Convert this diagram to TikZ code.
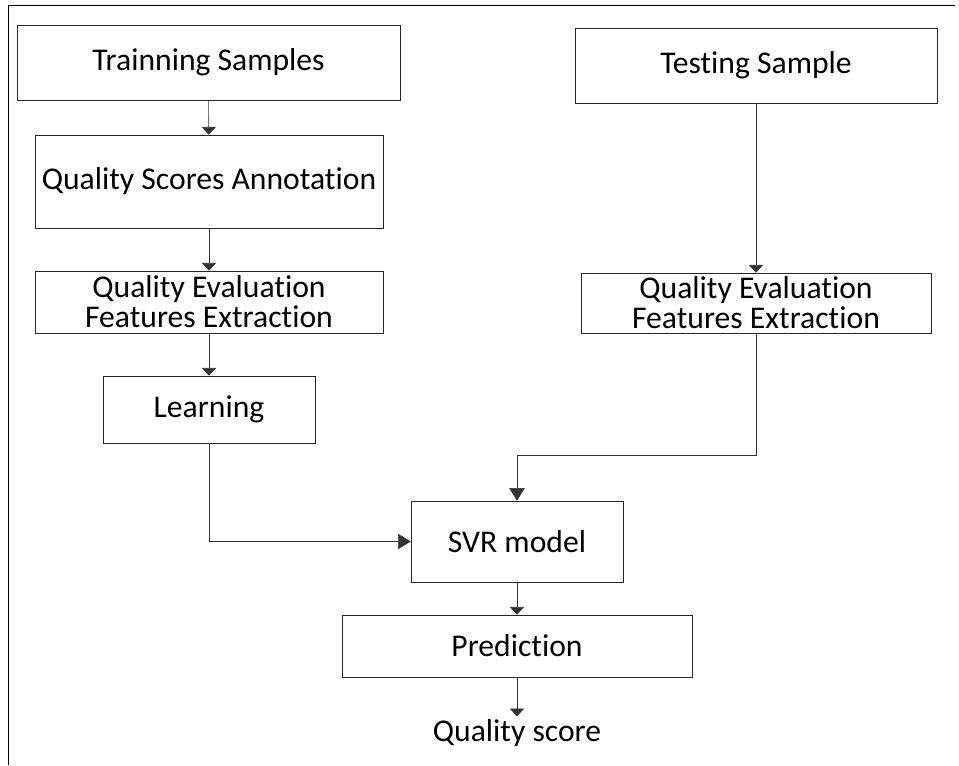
\documentclass[tikz,border=0pt]{standalone}
\usepackage{fontspec}
\setmainfont[RawFeature={-liga;-clig;-calt;-rlig;-dlig}]{Carlito}
\usetikzlibrary{arrows.meta}
\begin{document}
\begin{tikzpicture}[x=0.025cm,y=-0.025cm,
  font=\fontsize{22.5}{21.5}\selectfont,
  box/.style={draw=black!85,thin,align=center,inner sep=0pt},
  flow/.style={draw=black!80,thin,-{Triangle[width=10pt,length=5.5pt]}},
  bigflow/.style={draw=black!80,thin,-{Triangle[width=11pt,length=9pt]}}]
\useasboundingbox (0,0) rectangle (959,765);
\draw[thin] (8,765) -- (8,5) -- (955,5);
% left branch
\node[box,minimum width=9.575cm,minimum height=1.875cm] (train) at (208.5,62.5) {Trainning Samples};
\node[box,minimum width=8.7cm,minimum height=2.325cm] (annot) at (209,181.5) {Quality Scores Annotation};
\node[box,minimum width=8.7cm,minimum height=1.55cm] (qel) at (209,302) {Quality Evaluation\\Features Extraction};
\node[box,minimum width=5.3cm,minimum height=1.675cm] (learn) at (209,409.5) {Learning};
% right branch
\node[box,minimum width=9.05cm,minimum height=1.875cm] (test) at (756,65.5) {Testing Sample};
\node[box,minimum width=8.75cm,minimum height=1.5cm] (qer) at (756,303) {Quality Evaluation\\Features Extraction};
% model and output
\node[box,minimum width=5.3cm,minimum height=2.025cm] (svr) at (517,541.5) {SVR model};
\node[box,minimum width=8.75cm,minimum height=1.55cm] (pred) at (517,646) {Prediction};
\node[inner sep=2pt] (score) at (517,733) {Quality score};
\coordinate (bend) at (756,455);
\draw[flow] (train) -- (annot);
\draw[flow] (annot) -- (qel);
\draw[flow] (qel) -- (learn);
\draw[bigflow] (learn.south) |- (svr.west);
\draw[flow] (test) -- (qer);
\draw[bigflow] (qer.south) -- (bend) -| (svr.north);
\draw[flow] (svr) -- (pred);
\draw[flow] (pred) -- (score);
\end{tikzpicture}
\end{document}
